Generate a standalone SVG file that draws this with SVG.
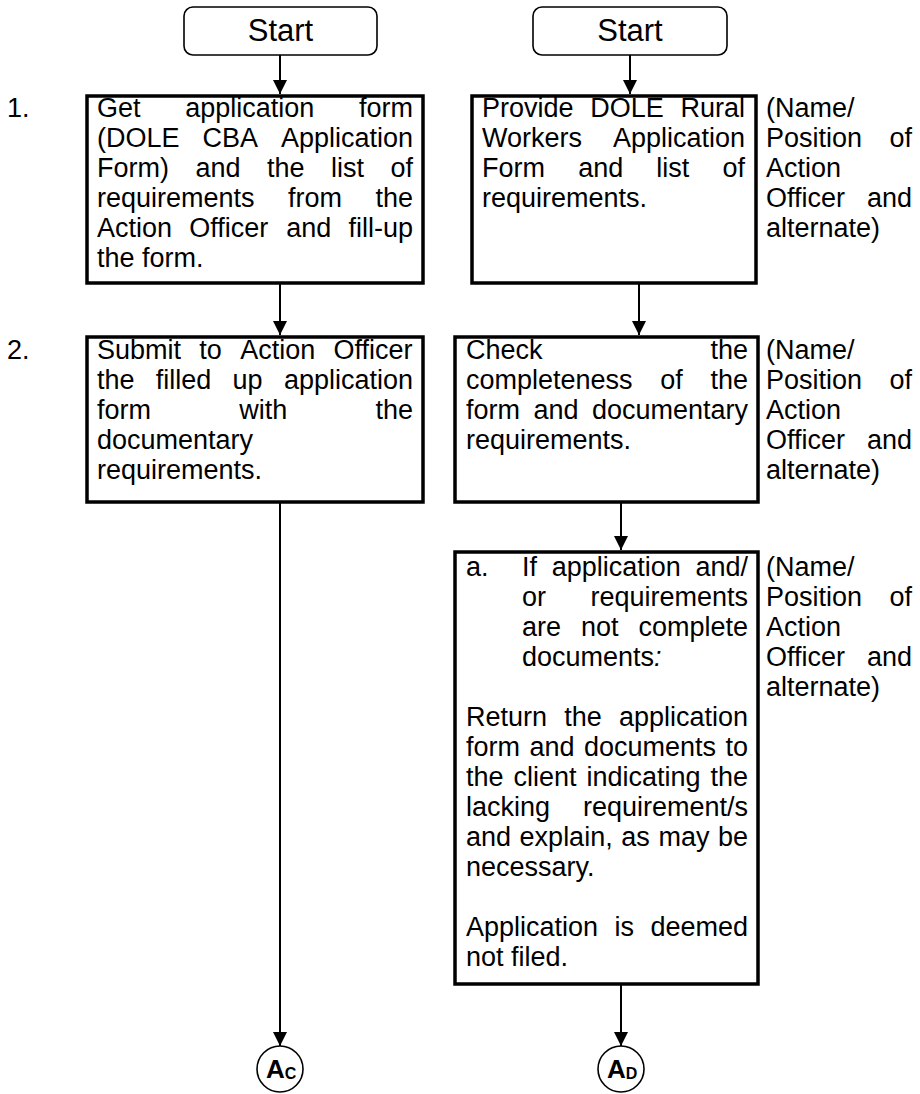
<svg xmlns="http://www.w3.org/2000/svg" width="920" height="1094" viewBox="0 0 920 1094">
<style>
.t{font-family:"Liberation Sans",Arial,sans-serif;font-size:27px;fill:#000}
.st{font-family:"Liberation Sans",Arial,sans-serif;font-size:31px;fill:#000;text-anchor:middle}
.box{fill:#fff;stroke:#000;stroke-width:3.5}
.term{fill:#fff;stroke:#000;stroke-width:1.6}
.conn{stroke:#000;stroke-width:2;fill:none;marker-end:url(#ah)}
.circ{fill:#fff;stroke:#000;stroke-width:1.6}
.cl{font-family:"Liberation Sans",Arial,sans-serif;font-weight:bold;fill:#000}
</style>
<defs>
<marker id="ah" viewBox="0 0 10 10" refX="10" refY="5" markerUnits="userSpaceOnUse" markerWidth="14" markerHeight="14" orient="auto">
<path d="M0,0 L10,5 L0,10 z" fill="#000"/>
</marker>
</defs>
<rect width="920" height="1094" fill="#fff"/>

<g id="connectors">
<line class="conn" x1="280" y1="55" x2="280" y2="94"/>
<line class="conn" x1="280" y1="283" x2="280" y2="335"/>
<line class="conn" x1="280" y1="502" x2="280" y2="1046"/>
<line class="conn" x1="630" y1="55" x2="630" y2="94"/>
<line class="conn" x1="639" y1="283" x2="639" y2="335"/>
<line class="conn" x1="621" y1="502" x2="621" y2="550"/>
<line class="conn" x1="621" y1="984" x2="621" y2="1046"/>
</g>

<g id="start-left">
<rect class="term" x="184" y="7" width="193" height="48" rx="9"/>
<text class="st" x="280.5" y="41">Start</text>
</g>

<g id="start-right">
<rect class="term" x="533" y="7" width="194" height="48" rx="9"/>
<text class="st" x="630" y="41">Start</text>
</g>

<g id="step-numbers">
<text class="t" x="7" y="117">1.</text>
<text class="t" x="7" y="359">2.</text>
</g>

<g id="client-step1">
<rect class="box" x="87" y="96" width="336" height="187"/>
<text class="t" y="117"><tspan x="97">Get</tspan><tspan x="185.2">application</tspan><tspan x="359">form</tspan></text>
<text class="t" y="147"><tspan x="97">(DOLE</tspan><tspan x="202.4">CBA</tspan><tspan x="280.9">Application</tspan></text>
<text class="t" y="177"><tspan x="97">Form)</tspan><tspan x="195.5">and</tspan><tspan x="267">the</tspan><tspan x="331">list</tspan><tspan x="390.5">of</tspan></text>
<text class="t" y="207"><tspan x="97">requirements</tspan><tspan x="288">from</tspan><tspan x="375.5">the</tspan></text>
<text class="t" y="237"><tspan x="97">Action</tspan><tspan x="189.3">Officer</tspan><tspan x="286.2">and</tspan><tspan x="348.5">fill-up</tspan></text>
<text class="t" x="97" y="267">the form.</text>
</g>

<g id="client-step2">
<rect class="box" x="87" y="337" width="336" height="165"/>
<text class="t" y="359"><tspan x="97">Submit</tspan><tspan x="199.3">to</tspan><tspan x="240.2">Action</tspan><tspan x="333.5">Officer</tspan></text>
<text class="t" y="389"><tspan x="97">the</tspan><tspan x="155.8">filled</tspan><tspan x="232.6">up</tspan><tspan x="283.9">application</tspan></text>
<text class="t" y="419"><tspan x="97">form</tspan><tspan x="239.2">with</tspan><tspan x="375.5">the</tspan></text>
<text class="t" x="97" y="449">documentary</text>
<text class="t" x="97" y="479">requirements.</text>
</g>

<g id="officer-step1">
<rect class="box" x="472" y="96" width="284" height="187"/>
<text class="t" y="117"><tspan x="482">Provide</tspan><tspan x="590.2">DOLE</tspan><tspan x="680.5">Rural</tspan></text>
<text class="t" y="147"><tspan x="482">Workers</tspan><tspan x="612.9">Application</tspan></text>
<text class="t" y="177"><tspan x="482">Form</tspan><tspan x="578.2">and</tspan><tspan x="656.3">list</tspan><tspan x="722.5">of</tspan></text>
<text class="t" x="482" y="207">requirements.</text>
</g>

<g id="officer-step2">
<rect class="box" x="455" y="337" width="303" height="165"/>
<text class="t" y="359"><tspan x="466">Check</tspan><tspan x="710.5">the</tspan></text>
<text class="t" y="389"><tspan x="466">completeness</tspan><tspan x="660.3">of</tspan><tspan x="710.5">the</tspan></text>
<text class="t" y="419"><tspan x="466">form</tspan><tspan x="533.4">and</tspan><tspan x="591.9">documentary</tspan></text>
<text class="t" x="466" y="449">requirements.</text>
</g>

<g id="officer-step2a">
<rect class="box" x="455" y="552" width="303" height="432"/>
<text class="t" x="466" y="576">a.</text>
<text class="t" y="576"><tspan x="522">If</tspan><tspan x="551.7">application</tspan><tspan x="695.5">and/</tspan></text>
<text class="t" y="606"><tspan x="522">or</tspan><tspan x="590.5">requirements</tspan></text>
<text class="t" y="636"><tspan x="522">are</tspan><tspan x="581">not</tspan><tspan x="638.5">complete</tspan></text>
<text class="t" x="522" y="666">documents<tspan font-style="italic">:</tspan></text>
<text class="t" y="726"><tspan x="466">Return</tspan><tspan x="564.2">the</tspan><tspan x="618.9">application</tspan></text>
<text class="t" y="756"><tspan x="466">form</tspan><tspan x="529.5">and</tspan><tspan x="583.9">documents</tspan><tspan x="725.5">to</tspan></text>
<text class="t" y="786"><tspan x="466">the</tspan><tspan x="513.5">client</tspan><tspan x="586.5">indicating</tspan><tspan x="710.5">the</tspan></text>
<text class="t" y="816"><tspan x="466">lacking</tspan><tspan x="582.9">requirement/s</tspan></text>
<text class="t" y="846"><tspan x="466">and</tspan><tspan x="519.6">explain,</tspan><tspan x="621.3">as</tspan><tspan x="658.4">may</tspan><tspan x="718">be</tspan></text>
<text class="t" x="466" y="876">necessary.</text>
<text class="t" y="936"><tspan x="466">Application</tspan><tspan x="614.5">is</tspan><tspan x="650.4">deemed</tspan></text>
<text class="t" x="466" y="966">not filed.</text>
</g>

<g id="resp-1">
<text class="t" x="766" y="117">(Name/</text>
<text class="t" y="147"><tspan x="766">Position</tspan><tspan x="889.5">of</tspan></text>
<text class="t" x="766" y="177">Action</text>
<text class="t" y="207"><tspan x="766">Officer</tspan><tspan x="867">and</tspan></text>
<text class="t" x="766" y="237">alternate)</text>
</g>

<g id="resp-2">
<text class="t" x="766" y="359">(Name/</text>
<text class="t" y="389"><tspan x="766">Position</tspan><tspan x="889.5">of</tspan></text>
<text class="t" x="766" y="419">Action</text>
<text class="t" y="449"><tspan x="766">Officer</tspan><tspan x="867">and</tspan></text>
<text class="t" x="766" y="479">alternate)</text>
</g>

<g id="resp-3">
<text class="t" x="766" y="576">(Name/</text>
<text class="t" y="606"><tspan x="766">Position</tspan><tspan x="889.5">of</tspan></text>
<text class="t" x="766" y="636">Action</text>
<text class="t" y="666"><tspan x="766">Officer</tspan><tspan x="867">and</tspan></text>
<text class="t" x="766" y="696">alternate)</text>
</g>

<g id="connector-Ac">
<circle class="circ" cx="280" cy="1069" r="23"/>
<text class="cl" y="1078"><tspan x="266" font-size="26">A</tspan><tspan font-size="16" dy="1">C</tspan></text>
</g>

<g id="connector-Ad">
<circle class="circ" cx="621" cy="1069" r="23"/>
<text class="cl" y="1078"><tspan x="607" font-size="26">A</tspan><tspan font-size="16" dy="1">D</tspan></text>
</g>
</svg>
